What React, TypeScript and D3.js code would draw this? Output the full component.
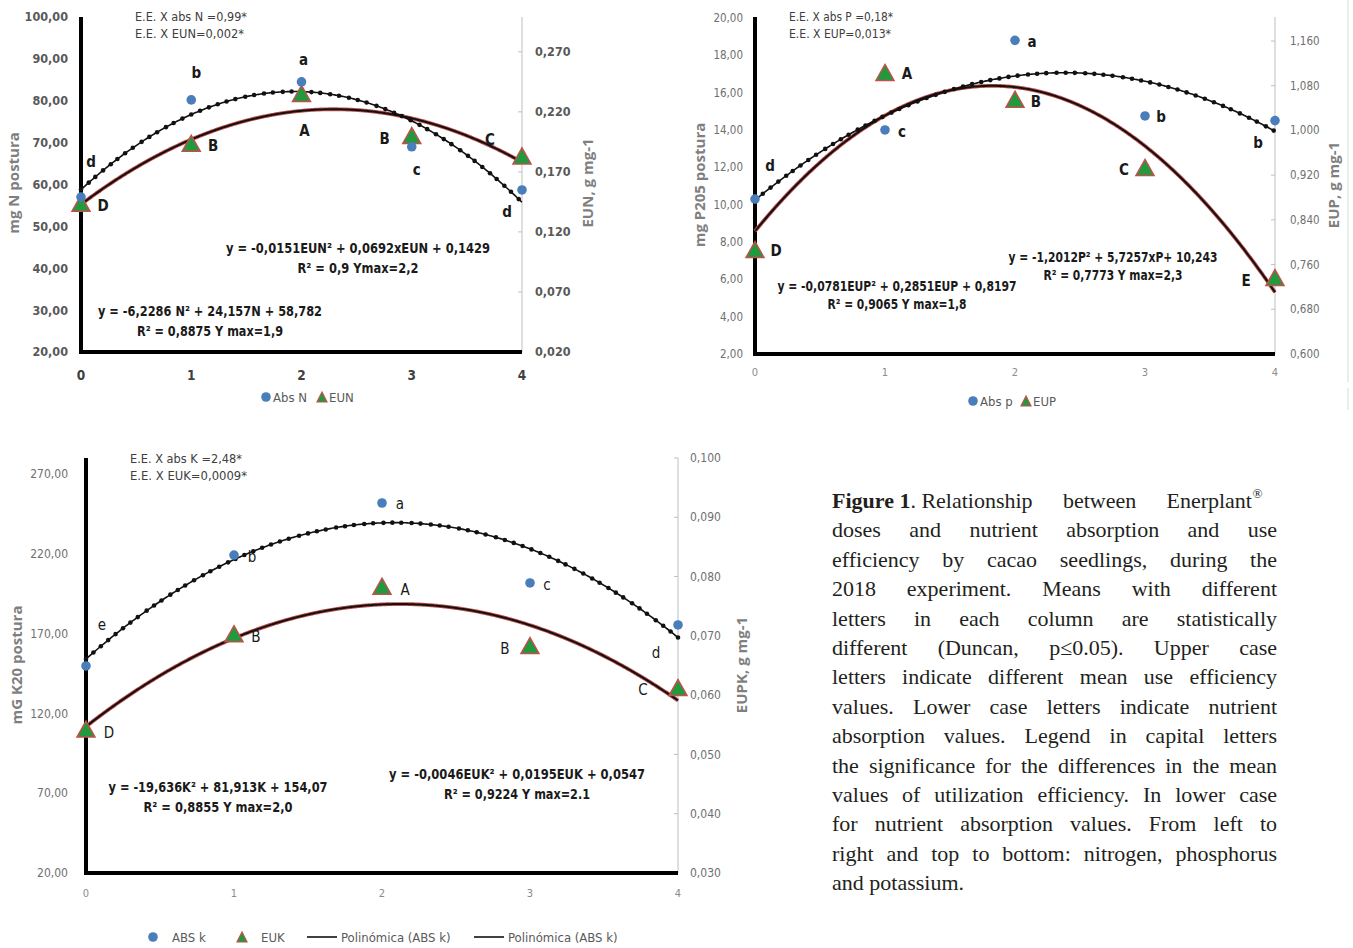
import React from "react";
import * as d3 from "d3";

// ---------------- DATA ----------------
const doses = [0, 1, 2, 3, 4];
const xTicks = [0, 1, 2, 3, 4];

// Nitrogen
const nAbs = [57.0, 80.2, 84.5, 69.0, 58.7];
const nEu = [0.1425, 0.1925, 0.234, 0.199, 0.182];
const nAbsFit = [-6.2286, 24.157, 58.782];
const nEuFit = [-0.0151, 0.0692, 0.1429];
const nAbsLetters = ["d", "b", "a", "c", "d"];
const nEuLetters = ["D", "B", "A", "B", "C"];
const nLeftTicks = [20, 30, 40, 50, 60, 70, 80, 90, 100];
const nRightTicks = [0.02, 0.07, 0.12, 0.17, 0.22, 0.27];

// Phosphorus
const pAbs = [10.3, 14.0, 18.8, 14.75, 14.5];
const pEu = [0.784, 1.101, 1.053, 0.931, 0.734];
const pAbsFit = [-1.2012, 5.7257, 10.243];
const pEuFit = [-0.0781, 0.2851, 0.8197];
const pAbsLetters = ["d", "c", "a", "b", "b"];
const pEuLetters = ["D", "A", "B", "C", "E"];
const pLeftTicks = [2, 4, 6, 8, 10, 12, 14, 16, 18, 20];
const pRightTicks = [0.6, 0.68, 0.76, 0.84, 0.92, 1.0, 1.08, 1.16];

// Potassium
const kAbs = [149.7, 219.2, 251.8, 201.7, 175.4];
const kEu = [0.054, 0.0701, 0.0781, 0.0681, 0.061];
const kAbsFit = [-19.636, 81.913, 154.07];
const kEuFit = [-0.0046, 0.0195, 0.0547];
const kAbsLetters = ["e", "b", "a", "c", "d"];
const kEuLetters = ["D", "B", "A", "B", "C"];
const kLeftTicks = [20, 70, 120, 170, 220, 270];
const kRightTicks = [0.03, 0.04, 0.05, 0.06, 0.07, 0.08, 0.09, 0.1];

const captionFirst = ["Figure 1", ". Relationship", "between", "Enerplant"];
const captionLines = [
  "doses and nutrient absorption and use",
  "efficiency by cacao seedlings, during the",
  "2018 experiment. Means with different",
  "letters in each column are statistically",
  "different (Duncan, p\u22640.05). Upper case",
  "letters indicate different mean use efficiency",
  "values. Lower case letters indicate nutrient",
  "absorption values. Legend in capital letters",
  "the significance for the differences in the mean",
  "values of utilization efficiency. In lower case",
  "for nutrient absorption values. From left to",
  "right and top to bottom: nitrogen, phosphorus",
  "and potassium.",
];

// ---------------- STYLE ----------------
const NARROW = "'Liberation Sans Narrow', 'Arial Narrow', 'DejaVu Sans Condensed', 'Roboto Condensed', sans-serif";
const SANS = "'Open Sans', 'Liberation Sans', sans-serif";
const SERIF = "'Liberation Serif', 'DejaVu Serif', serif";
const BLUE = "#4a7ebb";
const GREEN = "#1f9a3c";
const RED = "#c0504d";

const fmt = (dec: number) => (v: number) => v.toFixed(dec).replace(".", ",");
const quad = (c: number[]) => (x: number) => c[0] * x * x + c[1] * x + c[2];

const panels = [
  {
    key: "N",
    box: { x0: 81, x1: 522, top: 17, bottom: 352 },
    leftDomain: [20, 100], rightDomain: [0.02, 0.299],
    leftTicks: nLeftTicks, rightTicks: nRightTicks, leftDec: 2, rightDec: 3,
    abs: nAbs, eu: nEu, absFit: nAbsFit, euFit: nEuFit,
    absLetters: nAbsLetters, euLetters: nEuLetters,
    absOff: [[10, -35], [5, -27], [2, -22], [5, 23], [-15, 22]],
    euOff: [[22, 1], [22, 1], [3, 36], [-27, 2], [-32, -18]],
    letterWeight: "bold",
    ee: ["E.E. X abs N =0,99*", "E.E. X EUN=0,002*"], eeX: 135, eeY: 17, eeW: [112, 109],
    eqAbs: ["y = -6,2286 N\u00b2 + 24,157N + 58,782", "R\u00b2 = 0,8875 Y max=1,9"], eqAbsPos: [210, 311], eqAbsW: [224, 146],
    eqEu: ["y = -0,0151EUN\u00b2 + 0,0692xEUN + 0,1429", "R\u00b2 = 0,9 Ymax=2,2"], eqEuPos: [358, 248], eqEuW: [264, 121],
    eqGap: 20,
    leftTitle: "mg N postura", leftTitleX: 14, rightTitle: "EUN, g mg-1", rightTitleX: 588, titleY: 183,
    tick: { size: 12.5, color: "#595959", weight: "bold", xSize: 13.5, xColor: "#404040", xWeight: "bold", xY: 375, leftGap: 13, rightGap: 13 },
    legendY: 397,
    legend: [
      { type: "circle", x: 266, label: "Abs N" },
      { type: "tri", x: 322, label: "EUN" },
    ],
  },
  {
    key: "P",
    box: { x0: 755, x1: 1275, top: 17, bottom: 354 },
    leftDomain: [2, 20.05], rightDomain: [0.6, 1.203],
    leftTicks: pLeftTicks, rightTicks: pRightTicks, leftDec: 2, rightDec: 3,
    abs: pAbs, eu: pEu, absFit: pAbsFit, euFit: pEuFit,
    absLetters: pAbsLetters, euLetters: pEuLetters,
    absOff: [[15, -33], [17, 2], [17, 1], [16, 1], [-17, 22]],
    euOff: [[21, 0], [22, 0], [21, 1], [-21, 1], [-29, 2]],
    letterWeight: "bold",
    ee: ["E.E. X abs P =0,18*", "E.E. X EUP=0,013*"], eeX: 789, eeY: 17, eeW: [104, 102],
    eqAbs: ["y = -1,2012P\u00b2 + 5,7257xP+ 10,243", "R\u00b2 = 0,7773 Y max=2,3"], eqAbsPos: [1113, 257], eqAbsW: [209, 139],
    eqEu: ["y = -0,0781EUP\u00b2 + 0,2851EUP + 0,8197", "R\u00b2 = 0,9065 Y max=1,8"], eqEuPos: [897, 286], eqEuW: [239, 139],
    eqGap: 18,
    leftTitle: "mg P205 postura", leftTitleX: 700, rightTitle: "EUP, g mg-1", rightTitleX: 1334, titleY: 185,
    tick: { size: 11.5, color: "#6f6f6f", weight: "normal", xSize: 11, xColor: "#8c8c8c", xWeight: "normal", xY: 372, leftGap: 12, rightGap: 15 },
    legendY: 401,
    legend: [
      { type: "circle", x: 973, label: "Abs p" },
      { type: "tri", x: 1026, label: "EUP" },
    ],
  },
  {
    key: "K",
    box: { x0: 86, x1: 678, top: 458, bottom: 873 },
    leftDomain: [20, 280], rightDomain: [0.03, 0.1],
    leftTicks: kLeftTicks, rightTicks: kRightTicks, leftDec: 2, rightDec: 3,
    abs: kAbs, eu: kEu, absFit: kAbsFit, euFit: kEuFit,
    absLetters: kAbsLetters, euLetters: kEuLetters,
    absOff: [[16, -41], [18, 2], [18, 1], [17, 2], [-22, 28]],
    euOff: [[23, 2], [22, 1], [23, 2], [-25, 2], [-35, 1]],
    letterWeight: "normal",
    ee: ["E.E. X abs K =2,48*", "E.E. X EUK=0,0009*"], eeX: 130, eeY: 459, eeW: [112, 117],
    eqAbs: ["y = -19,636K\u00b2 + 81,913K + 154,07", "R\u00b2 = 0,8855 Y max=2,0"], eqAbsPos: [218, 787], eqAbsW: [219, 149],
    eqEu: ["y = -0,0046EUK\u00b2 + 0,0195EUK + 0,0547", "R\u00b2 = 0,9224 Y max=2.1"], eqEuPos: [517, 774], eqEuW: [256, 146],
    eqGap: 20,
    leftTitle: "mG K20 postura", leftTitleX: 17, rightTitle: "EUPK, g mg-1", rightTitleX: 742, titleY: 665,
    tick: { size: 12, color: "#6f6f6f", weight: "normal", xSize: 11, xColor: "#8c8c8c", xWeight: "normal", xY: 893, leftGap: 18, rightGap: 12 },
    legendY: 937,
    legend: [
      { type: "circle", x: 153, label: "ABS k" },
      { type: "tri", x: 242, label: "EUK" },
      { type: "line", x: 307, label: "Polin\u00f3mica (ABS k)" },
      { type: "line", x: 474, label: "Polin\u00f3mica (ABS k)" },
    ],
  },
];

const triPath = (cx: number, cy: number, w = 18, h = 16) =>
  `M${cx},${cy - h * 0.6} L${cx + w / 2},${cy + h * 0.4} L${cx - w / 2},${cy + h * 0.4} Z`;

function Panel({ p }: { p: any }) {
  const { box } = p;
  const x = d3.scaleLinear().domain([0, 4]).range([box.x0, box.x1]);
  const yL = d3.scaleLinear().domain(p.leftDomain).range([box.bottom, box.top]);
  const yR = d3.scaleLinear().domain(p.rightDomain).range([box.bottom, box.top]);
  const samples = d3.range(0, 4.0001, 0.01);
  const fA = quad(p.absFit);
  const fE = quad(p.euFit);
  const absPts: [number, number][] = samples.map((s) => [x(s), yL(fA(s))]);
  const euPts: [number, number][] = samples.map((s) => [x(s), yR(fE(s))]);
  const line = d3.line();
  const dots: [number, number][] = [];
  let acc = 0;
  let next = 0;
  for (let i = 0; i < absPts.length; i++) {
    if (i > 0) {
      acc += Math.hypot(absPts[i][0] - absPts[i - 1][0], absPts[i][1] - absPts[i - 1][1]);
    }
    if (acc >= next) {
      dots.push(absPts[i]);
      next += 9.5;
    }
  }
  const t = p.tick;
  const lFmt = fmt(p.leftDec);
  const rFmt = fmt(p.rightDec);
  return (
    <g>
      <line x1={box.x1} x2={box.x1} y1={box.top} y2={box.bottom} stroke="#bfbfbf" strokeWidth={1} />
      {p.rightTicks.map((v: number) => (
        <g key={"r" + v}>
          <line x1={box.x1 - 4} x2={box.x1} y1={yR(v)} y2={yR(v)} stroke="#bfbfbf" />
          <text x={box.x1 + t.rightGap} y={yR(v)} dy="0.35em" fontFamily={NARROW} fontSize={t.size} fill={t.color} fontWeight={t.weight}>
            {rFmt(v)}
          </text>
        </g>
      ))}
      {p.leftTicks.map((v: number) => (
        <text key={"l" + v} x={box.x0 - t.leftGap} y={yL(v)} dy="0.35em" textAnchor="end" fontFamily={NARROW} fontSize={t.size} fill={t.color} fontWeight={t.weight}>
          {lFmt(v)}
        </text>
      ))}
      {xTicks.map((v) => (
        <text key={"x" + v} x={x(v)} y={t.xY} dy="0.35em" textAnchor="middle" fontFamily={NARROW} fontSize={t.xSize} fill={t.xColor} fontWeight={t.xWeight}>
          {v}
        </text>
      ))}
      <line x1={box.x0} x2={box.x0} y1={box.top} y2={box.bottom + 2} stroke="#000" strokeWidth={4} />
      <line x1={box.x0 - 2} x2={box.x1} y1={box.bottom} y2={box.bottom} stroke="#000" strokeWidth={4} />
      <path d={line(euPts) || ""} fill="none" stroke={RED} strokeWidth={3.8} />
      <path d={line(euPts) || ""} fill="none" stroke="#111" strokeWidth={2} />
      <path d={line(absPts) || ""} fill="none" stroke="#111" strokeWidth={1.6} />
      {dots.map((d, i) => (
        <circle key={"dt" + i} cx={d[0]} cy={d[1]} r={2.3} fill="#111" />
      ))}
      {doses.map((dx, i) => (
        <path key={"t" + i} d={triPath(x(dx), yR(p.eu[i]))} fill={GREEN} stroke={RED} strokeWidth={1.5} />
      ))}
      {doses.map((dx, i) => (
        <circle key={"c" + i} cx={x(dx)} cy={yL(p.abs[i])} r={4.8} fill={BLUE} />
      ))}
      {doses.map((dx, i) => (
        <text key={"la" + i} x={x(dx) + p.absOff[i][0]} y={yL(p.abs[i]) + p.absOff[i][1]} dy="0.35em" textAnchor="middle" fontFamily={NARROW} fontSize={15} fontWeight={p.letterWeight} fill="#1a1a1a">
          {p.absLetters[i]}
        </text>
      ))}
      {doses.map((dx, i) => (
        <text key={"le" + i} x={x(dx) + p.euOff[i][0]} y={yR(p.eu[i]) + p.euOff[i][1]} dy="0.35em" textAnchor="middle" fontFamily={NARROW} fontSize={15} fontWeight={p.letterWeight} fill="#1a1a1a">
          {p.euLetters[i]}
        </text>
      ))}
      {p.ee.map((s: string, i: number) => (
        <text key={"ee" + i} x={p.eeX} y={p.eeY + i * 17} dy="0.35em" fontFamily={NARROW} fontSize={12.5} fill="#404040" textLength={p.eeW[i]} lengthAdjust="spacingAndGlyphs">
          {s}
        </text>
      ))}
      {[{ lines: p.eqAbs, pos: p.eqAbsPos, w: p.eqAbsW }, { lines: p.eqEu, pos: p.eqEuPos, w: p.eqEuW }].map((eq, j) =>
        eq.lines.map((s: string, i: number) => (
          <text key={"eq" + j + i} x={eq.pos[0] - eq.w[i] / 2} y={eq.pos[1] + i * p.eqGap} dy="0.35em" fontFamily={NARROW} fontSize={14} fontWeight="bold" fill="#1a1a1a" textLength={eq.w[i]} lengthAdjust="spacingAndGlyphs">
            {s}
          </text>
        ))
      )}
      <text transform={`translate(${p.leftTitleX},${p.titleY}) rotate(-90)`} dy="0.35em" textAnchor="middle" fontFamily={SANS} fontSize={15} fontWeight="bold" fill="#7f7f7f">
        {p.leftTitle}
      </text>
      <text transform={`translate(${p.rightTitleX},${p.titleY}) rotate(-90)`} dy="0.35em" textAnchor="middle" fontFamily={SANS} fontSize={15} fontWeight="bold" fill="#7f7f7f">
        {p.rightTitle}
      </text>
      {p.legend.map((l: any, i: number) => {
        const y = p.legendY;
        let mark = null;
        let tx = l.x + 7;
        if (l.type === "circle") {
          mark = <circle cx={l.x} cy={y} r={4.8} fill={BLUE} />;
          if (p.key === "K") tx = l.x + 19;
        } else if (l.type === "tri") {
          mark = <path d={triPath(l.x, y + 1, 10, 10)} fill={GREEN} stroke={RED} strokeWidth={1.2} />;
          if (p.key === "K") tx = l.x + 19;
        } else {
          mark = <line x1={l.x} x2={l.x + 30} y1={y} y2={y} stroke="#111" strokeWidth={1.6} />;
          tx = l.x + 34;
        }
        return (
          <g key={"lg" + i}>
            {mark}
            <text x={tx} y={y} dy="0.35em" fontFamily={NARROW} fontSize={13} fill="#595959">
              {l.label}
            </text>
          </g>
        );
      })}
    </g>
  );
}

let ctxCache: CanvasRenderingContext2D | null = null;
function measure(text: string, font: string) {
  if (!ctxCache) ctxCache = document.createElement("canvas").getContext("2d");
  if (!ctxCache) return text.length * 8;
  ctxCache.font = font;
  return ctxCache.measureText(text).width;
}

function Caption() {
  const left = 832;
  const right = 1277;
  const W = right - left;
  const y0 = 508;
  const lh = 29.4;
  const base = 19;
  const longest = d3.max(captionLines.slice(0, -1), (l) => measure(l, `${base}px 'Liberation Serif'`)) || 400;
  const fs = Math.min(22, (base * (W - 6)) / longest);
  const font = `${fs}px 'Liberation Serif'`;
  const boldFont = `bold ${fs}px 'Liberation Serif'`;
  const firstFonts = [boldFont, font, font, font];
  const fw = captionFirst.map((w, i) => measure(w, firstFonts[i]));
  const supW = measure("\u00ae", `${fs * 0.6}px 'Liberation Serif'`);
  const firstRight = 1262;
  const extra = (firstRight - left - d3.sum(fw) - supW) / 2; // two inter-word gaps after "Relationship"
  const firstX: number[] = [];
  let cx0 = left;
  captionFirst.forEach((w, i) => {
    firstX.push(cx0);
    cx0 += fw[i] + (i === 0 ? 0 : extra);
  });
  return (
    <g fontFamily={SERIF} fontSize={fs} fill="#231f20">
      {captionFirst.map((w, i) => (
        <text key={"f" + i} x={firstX[i]} y={y0} fontWeight={i === 0 ? "bold" : "normal"}>
          {w}
        </text>
      ))}
      <text x={firstX[3] + fw[3] + 0.5} y={y0 - fs * 0.45} fontSize={fs * 0.6}>
        {"\u00ae"}
      </text>
      {captionLines.map((ln, li) => {
        const y = y0 + (li + 1) * lh;
        const words = ln.split(" ");
        const last = li === captionLines.length - 1;
        if (last || words.length < 2) {
          return (
            <text key={li} x={left} y={y}>
              {ln}
            </text>
          );
        }
        const ws = words.map((w) => measure(w, font));
        const gap = (W - d3.sum(ws)) / (words.length - 1);
        let cx = left;
        return (
          <g key={li}>
            {words.map((w, wi) => {
              const xx = cx;
              cx += ws[wi] + gap;
              return (
                <text key={wi} x={xx} y={y}>
                  {w}
                </text>
              );
            })}
          </g>
        );
      })}
    </g>
  );
}

export default function App() {
  return (
    <svg width={1353} height={948} style={{ position: "absolute", left: 0, top: 0, background: "#fff" }}>
      <rect x={0} y={0} width={1353} height={948} fill="#fff" />
      <line x1={1348} x2={1348} y1={0} y2={382} stroke="#d9d9d9" />
      <line x1={1348} x2={1348} y1={388} y2={410} stroke="#d9d9d9" />
      {panels.map((p) => (
        <Panel key={p.key} p={p} />
      ))}
      <Caption />
    </svg>
  );
}
